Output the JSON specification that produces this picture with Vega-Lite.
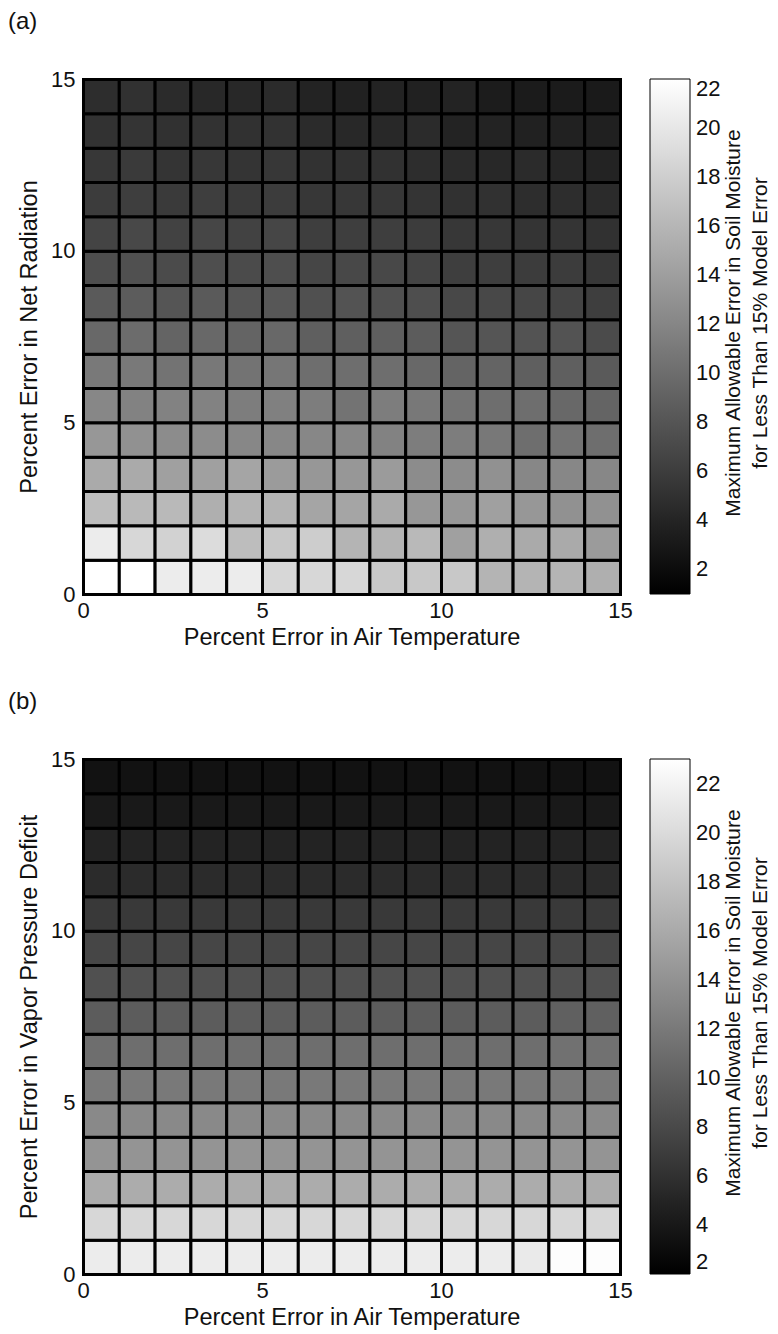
{
"$schema": "https://vega.github.io/schema/vega-lite/v6.json",
"padding": {"left": 8, "top": 10, "right": 0, "bottom": 3},
"background": "white",
"config": {
  "font": "Liberation Sans",
  "view": {"stroke": null},
  "concat": {"spacing": 41},
  "axis": {"grid": false, "ticks": false, "domain": false, "labelFlush": false, "labelFontSize": 22, "labelColor": "#111", "titleFontSize": 23.5, "titleFontWeight": "normal", "titleColor": "#111", "labelPadding": 6},
  "legend": {"labelFontSize": 22, "labelColor": "#111", "titleFontSize": 21, "titleFontWeight": "normal", "titleColor": "#111"},
  "title": {"fontSize": 24, "fontWeight": "normal", "color": "#111"}
},
"resolve": {"scale": {"color": "independent"}, "legend": {"color": "independent"}},
"datasets": {
"a": [
{"x":0,"y":0,"v":22},{"x":1,"y":0,"v":22},{"x":2,"y":0,"v":20.4},{"x":3,"y":0,"v":20.4},{"x":4,"y":0,"v":20.4},{"x":5,"y":0,"v":18.7},{"x":6,"y":0,"v":18.7},{"x":7,"y":0,"v":18.7},{"x":8,"y":0,"v":17.5},{"x":9,"y":0,"v":17.5},{"x":10,"y":0,"v":17.5},{"x":11,"y":0,"v":15.8},{"x":12,"y":0,"v":15.8},{"x":13,"y":0,"v":15.8},{"x":14,"y":0,"v":15.4},
{"x":0,"y":1,"v":20.4},{"x":1,"y":1,"v":18.7},{"x":2,"y":1,"v":18.3},{"x":3,"y":1,"v":19.1},{"x":4,"y":1,"v":16.6},{"x":5,"y":1,"v":17.5},{"x":6,"y":1,"v":17.9},{"x":7,"y":1,"v":15.8},{"x":8,"y":1,"v":15.8},{"x":9,"y":1,"v":16.2},{"x":10,"y":1,"v":14.2},{"x":11,"y":1,"v":15.4},{"x":12,"y":1,"v":15.0},{"x":13,"y":1,"v":15.0},{"x":14,"y":1,"v":13.8},
{"x":0,"y":2,"v":16.6},{"x":1,"y":2,"v":16.2},{"x":2,"y":2,"v":16.2},{"x":3,"y":2,"v":15.4},{"x":4,"y":2,"v":15.8},{"x":5,"y":2,"v":15.8},{"x":6,"y":2,"v":14.6},{"x":7,"y":2,"v":14.6},{"x":8,"y":2,"v":15.0},{"x":9,"y":2,"v":13.4},{"x":10,"y":2,"v":13.4},{"x":11,"y":2,"v":14.2},{"x":12,"y":2,"v":13.4},{"x":13,"y":2,"v":12.9},{"x":14,"y":2,"v":12.9},
{"x":0,"y":3,"v":15.0},{"x":1,"y":3,"v":15.0},{"x":2,"y":3,"v":14.2},{"x":3,"y":3,"v":14.2},{"x":4,"y":3,"v":14.6},{"x":5,"y":3,"v":13.8},{"x":6,"y":3,"v":13.4},{"x":7,"y":3,"v":13.4},{"x":8,"y":3,"v":13.8},{"x":9,"y":3,"v":12.5},{"x":10,"y":3,"v":12.5},{"x":11,"y":3,"v":12.9},{"x":12,"y":3,"v":12.1},{"x":13,"y":3,"v":12.1},{"x":14,"y":3,"v":12.1},
{"x":0,"y":4,"v":13.4},{"x":1,"y":4,"v":12.9},{"x":2,"y":4,"v":12.5},{"x":3,"y":4,"v":12.5},{"x":4,"y":4,"v":12.1},{"x":5,"y":4,"v":12.1},{"x":6,"y":4,"v":12.1},{"x":7,"y":4,"v":12.1},{"x":8,"y":4,"v":11.7},{"x":9,"y":4,"v":11.3},{"x":10,"y":4,"v":11.3},{"x":11,"y":4,"v":10.9},{"x":12,"y":4,"v":10.1},{"x":13,"y":4,"v":10.5},{"x":14,"y":4,"v":10.1},
{"x":0,"y":5,"v":12.1},{"x":1,"y":5,"v":11.7},{"x":2,"y":5,"v":11.7},{"x":3,"y":5,"v":11.7},{"x":4,"y":5,"v":11.3},{"x":5,"y":5,"v":11.5},{"x":6,"y":5,"v":11.3},{"x":7,"y":5,"v":10.5},{"x":8,"y":5,"v":11.3},{"x":9,"y":5,"v":10.9},{"x":10,"y":5,"v":10.5},{"x":11,"y":5,"v":10.1},{"x":12,"y":5,"v":10.1},{"x":13,"y":5,"v":9.6},{"x":14,"y":5,"v":9.2},
{"x":0,"y":6,"v":11.0},{"x":1,"y":6,"v":11.0},{"x":2,"y":6,"v":10.5},{"x":3,"y":6,"v":10.9},{"x":4,"y":6,"v":10.5},{"x":5,"y":6,"v":10.7},{"x":6,"y":6,"v":10.1},{"x":7,"y":6,"v":10.1},{"x":8,"y":6,"v":10.1},{"x":9,"y":6,"v":9.6},{"x":10,"y":6,"v":9.2},{"x":11,"y":6,"v":9.2},{"x":12,"y":6,"v":8.8},{"x":13,"y":6,"v":8.8},{"x":14,"y":6,"v":8.4},
{"x":0,"y":7,"v":9.6},{"x":1,"y":7,"v":9.9},{"x":2,"y":7,"v":9.2},{"x":3,"y":7,"v":9.6},{"x":4,"y":7,"v":9.2},{"x":5,"y":7,"v":9.6},{"x":6,"y":7,"v":8.8},{"x":7,"y":7,"v":8.8},{"x":8,"y":7,"v":8.8},{"x":9,"y":7,"v":8.6},{"x":10,"y":7,"v":8.0},{"x":11,"y":7,"v":8.0},{"x":12,"y":7,"v":7.8},{"x":13,"y":7,"v":7.8},{"x":14,"y":7,"v":7.2},
{"x":0,"y":8,"v":8.4},{"x":1,"y":8,"v":8.6},{"x":2,"y":8,"v":8.0},{"x":3,"y":8,"v":8.4},{"x":4,"y":8,"v":8.0},{"x":5,"y":8,"v":8.2},{"x":6,"y":8,"v":7.6},{"x":7,"y":8,"v":7.8},{"x":8,"y":8,"v":7.6},{"x":9,"y":8,"v":7.4},{"x":10,"y":8,"v":6.9},{"x":11,"y":8,"v":6.9},{"x":12,"y":8,"v":6.8},{"x":13,"y":8,"v":6.6},{"x":14,"y":8,"v":6.1},
{"x":0,"y":9,"v":7.4},{"x":1,"y":9,"v":7.6},{"x":2,"y":9,"v":7.2},{"x":3,"y":9,"v":7.4},{"x":4,"y":9,"v":7.2},{"x":5,"y":9,"v":7.4},{"x":6,"y":9,"v":6.8},{"x":7,"y":9,"v":6.9},{"x":8,"y":9,"v":6.9},{"x":9,"y":9,"v":6.6},{"x":10,"y":9,"v":6.1},{"x":11,"y":9,"v":6.1},{"x":12,"y":9,"v":5.9},{"x":13,"y":9,"v":5.9},{"x":14,"y":9,"v":5.5},
{"x":0,"y":10,"v":6.6},{"x":1,"y":10,"v":6.9},{"x":2,"y":10,"v":6.4},{"x":3,"y":10,"v":6.8},{"x":4,"y":10,"v":6.4},{"x":5,"y":10,"v":6.8},{"x":6,"y":10,"v":6.1},{"x":7,"y":10,"v":6.1},{"x":8,"y":10,"v":6.1},{"x":9,"y":10,"v":5.9},{"x":10,"y":10,"v":5.5},{"x":11,"y":10,"v":5.5},{"x":12,"y":10,"v":5.3},{"x":13,"y":10,"v":5.3},{"x":14,"y":10,"v":5.0},
{"x":0,"y":11,"v":5.9},{"x":1,"y":11,"v":6.1},{"x":2,"y":11,"v":5.8},{"x":3,"y":11,"v":6.1},{"x":4,"y":11,"v":5.8},{"x":5,"y":11,"v":5.9},{"x":6,"y":11,"v":5.5},{"x":7,"y":11,"v":5.5},{"x":8,"y":11,"v":5.5},{"x":9,"y":11,"v":5.3},{"x":10,"y":11,"v":5.0},{"x":11,"y":11,"v":5.0},{"x":12,"y":11,"v":4.7},{"x":13,"y":11,"v":4.7},{"x":14,"y":11,"v":4.5},
{"x":0,"y":12,"v":5.5},{"x":1,"y":12,"v":5.8},{"x":2,"y":12,"v":5.3},{"x":3,"y":12,"v":5.5},{"x":4,"y":12,"v":5.3},{"x":5,"y":12,"v":5.5},{"x":6,"y":12,"v":5.1},{"x":7,"y":12,"v":5.0},{"x":8,"y":12,"v":5.0},{"x":9,"y":12,"v":4.7},{"x":10,"y":12,"v":4.5},{"x":11,"y":12,"v":4.3},{"x":12,"y":12,"v":4.5},{"x":13,"y":12,"v":4.1},{"x":14,"y":12,"v":3.9},
{"x":0,"y":13,"v":5.1},{"x":1,"y":13,"v":5.3},{"x":2,"y":13,"v":5.0},{"x":3,"y":13,"v":5.1},{"x":4,"y":13,"v":5.0},{"x":5,"y":13,"v":5.1},{"x":6,"y":13,"v":4.5},{"x":7,"y":13,"v":4.3},{"x":8,"y":13,"v":4.3},{"x":9,"y":13,"v":4.5},{"x":10,"y":13,"v":3.9},{"x":11,"y":13,"v":3.9},{"x":12,"y":13,"v":3.7},{"x":13,"y":13,"v":3.7},{"x":14,"y":13,"v":3.6},
{"x":0,"y":14,"v":4.7},{"x":1,"y":14,"v":5.0},{"x":2,"y":14,"v":4.5},{"x":3,"y":14,"v":4.3},{"x":4,"y":14,"v":4.3},{"x":5,"y":14,"v":4.5},{"x":6,"y":14,"v":3.9},{"x":7,"y":14,"v":3.7},{"x":8,"y":14,"v":3.9},{"x":9,"y":14,"v":3.7},{"x":10,"y":14,"v":3.9},{"x":11,"y":14,"v":3.3},{"x":12,"y":14,"v":3.2},{"x":13,"y":14,"v":3.2},{"x":14,"y":14,"v":3.1}
],
"b": [
{"x":0,"y":0,"v":21.4},{"x":1,"y":0,"v":21.4},{"x":2,"y":0,"v":21.4},{"x":3,"y":0,"v":21.4},{"x":4,"y":0,"v":21.4},{"x":5,"y":0,"v":21.4},{"x":6,"y":0,"v":21.4},{"x":7,"y":0,"v":21.4},{"x":8,"y":0,"v":21.4},{"x":9,"y":0,"v":21.4},{"x":10,"y":0,"v":21.4},{"x":11,"y":0,"v":21.4},{"x":12,"y":0,"v":21.3},{"x":13,"y":0,"v":22.8},{"x":14,"y":0,"v":22.8},
{"x":0,"y":1,"v":19.7},{"x":1,"y":1,"v":19.7},{"x":2,"y":1,"v":19.7},{"x":3,"y":1,"v":19.7},{"x":4,"y":1,"v":19.7},{"x":5,"y":1,"v":19.7},{"x":6,"y":1,"v":19.7},{"x":7,"y":1,"v":19.7},{"x":8,"y":1,"v":19.7},{"x":9,"y":1,"v":19.7},{"x":10,"y":1,"v":19.7},{"x":11,"y":1,"v":19.7},{"x":12,"y":1,"v":19.7},{"x":13,"y":1,"v":19.7},{"x":14,"y":1,"v":19.7},
{"x":0,"y":2,"v":16.2},{"x":1,"y":2,"v":16.2},{"x":2,"y":2,"v":16.2},{"x":3,"y":2,"v":16.2},{"x":4,"y":2,"v":16.2},{"x":5,"y":2,"v":16.2},{"x":6,"y":2,"v":16.2},{"x":7,"y":2,"v":16.2},{"x":8,"y":2,"v":16.2},{"x":9,"y":2,"v":16.2},{"x":10,"y":2,"v":16.2},{"x":11,"y":2,"v":16.2},{"x":12,"y":2,"v":16.2},{"x":13,"y":2,"v":16.2},{"x":14,"y":2,"v":16.2},
{"x":0,"y":3,"v":14.2},{"x":1,"y":3,"v":14.2},{"x":2,"y":3,"v":14.2},{"x":3,"y":3,"v":14.2},{"x":4,"y":3,"v":14.2},{"x":5,"y":3,"v":14.2},{"x":6,"y":3,"v":14.2},{"x":7,"y":3,"v":14.2},{"x":8,"y":3,"v":14.2},{"x":9,"y":3,"v":14.2},{"x":10,"y":3,"v":14.2},{"x":11,"y":3,"v":14.2},{"x":12,"y":3,"v":14.2},{"x":13,"y":3,"v":14.2},{"x":14,"y":3,"v":14.2},
{"x":0,"y":4,"v":13.3},{"x":1,"y":4,"v":13.3},{"x":2,"y":4,"v":13.3},{"x":3,"y":4,"v":13.3},{"x":4,"y":4,"v":13.3},{"x":5,"y":4,"v":13.3},{"x":6,"y":4,"v":13.3},{"x":7,"y":4,"v":13.3},{"x":8,"y":4,"v":13.3},{"x":9,"y":4,"v":13.3},{"x":10,"y":4,"v":13.3},{"x":11,"y":4,"v":13.3},{"x":12,"y":4,"v":13.3},{"x":13,"y":4,"v":13.3},{"x":14,"y":4,"v":13.3},
{"x":0,"y":5,"v":12.0},{"x":1,"y":5,"v":12.0},{"x":2,"y":5,"v":12.0},{"x":3,"y":5,"v":12.0},{"x":4,"y":5,"v":12.0},{"x":5,"y":5,"v":12.0},{"x":6,"y":5,"v":12.0},{"x":7,"y":5,"v":12.0},{"x":8,"y":5,"v":12.0},{"x":9,"y":5,"v":12.0},{"x":10,"y":5,"v":12.0},{"x":11,"y":5,"v":12.0},{"x":12,"y":5,"v":12.0},{"x":13,"y":5,"v":12.0},{"x":14,"y":5,"v":12.0},
{"x":0,"y":6,"v":11.1},{"x":1,"y":6,"v":11.1},{"x":2,"y":6,"v":11.1},{"x":3,"y":6,"v":11.1},{"x":4,"y":6,"v":11.1},{"x":5,"y":6,"v":11.1},{"x":6,"y":6,"v":11.1},{"x":7,"y":6,"v":11.1},{"x":8,"y":6,"v":11.1},{"x":9,"y":6,"v":11.1},{"x":10,"y":6,"v":11.1},{"x":11,"y":6,"v":11.1},{"x":12,"y":6,"v":11.1},{"x":13,"y":6,"v":11.3},{"x":14,"y":6,"v":11.3},
{"x":0,"y":7,"v":9.6},{"x":1,"y":7,"v":9.6},{"x":2,"y":7,"v":9.6},{"x":3,"y":7,"v":9.6},{"x":4,"y":7,"v":9.6},{"x":5,"y":7,"v":9.6},{"x":6,"y":7,"v":9.6},{"x":7,"y":7,"v":9.6},{"x":8,"y":7,"v":9.6},{"x":9,"y":7,"v":9.6},{"x":10,"y":7,"v":9.6},{"x":11,"y":7,"v":9.6},{"x":12,"y":7,"v":9.6},{"x":13,"y":7,"v":9.9},{"x":14,"y":7,"v":9.9},
{"x":0,"y":8,"v":8.6},{"x":1,"y":8,"v":8.6},{"x":2,"y":8,"v":8.6},{"x":3,"y":8,"v":8.6},{"x":4,"y":8,"v":8.6},{"x":5,"y":8,"v":8.6},{"x":6,"y":8,"v":8.6},{"x":7,"y":8,"v":8.6},{"x":8,"y":8,"v":8.6},{"x":9,"y":8,"v":8.6},{"x":10,"y":8,"v":8.6},{"x":11,"y":8,"v":8.6},{"x":12,"y":8,"v":8.6},{"x":13,"y":8,"v":8.6},{"x":14,"y":8,"v":8.6},
{"x":0,"y":9,"v":7.8},{"x":1,"y":9,"v":7.8},{"x":2,"y":9,"v":7.8},{"x":3,"y":9,"v":7.8},{"x":4,"y":9,"v":7.8},{"x":5,"y":9,"v":7.8},{"x":6,"y":9,"v":7.8},{"x":7,"y":9,"v":7.8},{"x":8,"y":9,"v":7.8},{"x":9,"y":9,"v":7.8},{"x":10,"y":9,"v":7.8},{"x":11,"y":9,"v":7.8},{"x":12,"y":9,"v":7.8},{"x":13,"y":9,"v":7.8},{"x":14,"y":9,"v":7.8},
{"x":0,"y":10,"v":6.7},{"x":1,"y":10,"v":6.7},{"x":2,"y":10,"v":6.7},{"x":3,"y":10,"v":6.7},{"x":4,"y":10,"v":6.7},{"x":5,"y":10,"v":6.7},{"x":6,"y":10,"v":6.7},{"x":7,"y":10,"v":6.7},{"x":8,"y":10,"v":6.7},{"x":9,"y":10,"v":6.7},{"x":10,"y":10,"v":6.7},{"x":11,"y":10,"v":6.7},{"x":12,"y":10,"v":6.7},{"x":13,"y":10,"v":6.7},{"x":14,"y":10,"v":6.7},
{"x":0,"y":11,"v":5.5},{"x":1,"y":11,"v":5.5},{"x":2,"y":11,"v":5.5},{"x":3,"y":11,"v":5.5},{"x":4,"y":11,"v":5.5},{"x":5,"y":11,"v":5.5},{"x":6,"y":11,"v":5.5},{"x":7,"y":11,"v":5.5},{"x":8,"y":11,"v":5.5},{"x":9,"y":11,"v":5.5},{"x":10,"y":11,"v":5.5},{"x":11,"y":11,"v":5.5},{"x":12,"y":11,"v":5.5},{"x":13,"y":11,"v":5.5},{"x":14,"y":11,"v":5.5},
{"x":0,"y":12,"v":4.9},{"x":1,"y":12,"v":4.9},{"x":2,"y":12,"v":4.9},{"x":3,"y":12,"v":4.9},{"x":4,"y":12,"v":4.9},{"x":5,"y":12,"v":4.9},{"x":6,"y":12,"v":4.9},{"x":7,"y":12,"v":4.9},{"x":8,"y":12,"v":4.9},{"x":9,"y":12,"v":4.9},{"x":10,"y":12,"v":4.9},{"x":11,"y":12,"v":4.9},{"x":12,"y":12,"v":4.9},{"x":13,"y":12,"v":4.9},{"x":14,"y":12,"v":4.9},
{"x":0,"y":13,"v":4.1},{"x":1,"y":13,"v":4.1},{"x":2,"y":13,"v":4.1},{"x":3,"y":13,"v":4.1},{"x":4,"y":13,"v":4.1},{"x":5,"y":13,"v":4.1},{"x":6,"y":13,"v":4.1},{"x":7,"y":13,"v":4.1},{"x":8,"y":13,"v":4.1},{"x":9,"y":13,"v":4.1},{"x":10,"y":13,"v":4.1},{"x":11,"y":13,"v":4.1},{"x":12,"y":13,"v":4.1},{"x":13,"y":13,"v":4.1},{"x":14,"y":13,"v":4.1},
{"x":0,"y":14,"v":3.5},{"x":1,"y":14,"v":3.5},{"x":2,"y":14,"v":3.5},{"x":3,"y":14,"v":3.5},{"x":4,"y":14,"v":3.5},{"x":5,"y":14,"v":3.5},{"x":6,"y":14,"v":3.5},{"x":7,"y":14,"v":3.5},{"x":8,"y":14,"v":3.5},{"x":9,"y":14,"v":3.5},{"x":10,"y":14,"v":3.5},{"x":11,"y":14,"v":3.5},{"x":12,"y":14,"v":3.5},{"x":13,"y":14,"v":3.5},{"x":14,"y":14,"v":3.5}
]
},
"vconcat": [
{
  "width": 537, "height": 515,
  "title": {"text": "(a)", "anchor": "start", "frame": "group", "dx": -75, "offset": 34},
  "data": {"name": "a"},
  "mark": {"type": "rect", "stroke": "black", "strokeWidth": 3},
  "encoding": {
    "x": {"field": "x", "type": "quantitative", "bin": {"binned": true, "step": 1}, "scale": {"domain": [0, 15], "nice": false}, "axis": {"values": [0, 5, 10, 15], "title": "Percent Error in Air Temperature", "titlePadding": 4}},
    "y": {"field": "y", "type": "quantitative", "bin": {"binned": true, "step": 1}, "scale": {"domain": [0, 15], "nice": false}, "axis": {"values": [0, 5, 10, 15], "title": "Percent Error in Net Radiation", "titlePadding": 9, "labelPadding": 8}},
    "color": {"field": "v", "type": "quantitative", "scale": {"domain": [1, 22], "range": ["black", "white"], "interpolate": "rgb", "nice": false},
      "legend": {"orient": "right", "offset": 30, "type": "gradient", "direction": "vertical", "gradientLength": 515, "gradientThickness": 40, "gradientStrokeColor": "black", "gradientStrokeWidth": 1, "values": [2,4,6,8,10,12,14,16,18,20,22], "labelOffset": 6, "titleOrient": "right", "titleAnchor": "middle", "titlePadding": 3, "titleLineHeight": 27, "titleLimit": 700,
        "title": ["Maximum Allowable Error in Soil Moisture", "for Less Than 15% Model Error"],
        "encode": {"title": {"update": {"angle": {"value": -90}, "baseline": {"value": "top"}}}}}}
  }
},
{
  "width": 537, "height": 515,
  "title": {"text": "(b)", "anchor": "start", "frame": "group", "dx": -75, "offset": 34},
  "data": {"name": "b"},
  "mark": {"type": "rect", "stroke": "black", "strokeWidth": 3},
  "encoding": {
    "x": {"field": "x", "type": "quantitative", "bin": {"binned": true, "step": 1}, "scale": {"domain": [0, 15], "nice": false}, "axis": {"values": [0, 5, 10, 15], "title": "Percent Error in Air Temperature", "titlePadding": 4}},
    "y": {"field": "y", "type": "quantitative", "bin": {"binned": true, "step": 1}, "scale": {"domain": [0, 15], "nice": false}, "axis": {"values": [0, 5, 10, 15], "title": "Percent Error in Vapor Pressure Deficit", "titlePadding": 9, "labelPadding": 8}},
    "color": {"field": "v", "type": "quantitative", "scale": {"domain": [2, 23], "range": ["black", "white"], "interpolate": "rgb", "nice": false},
      "legend": {"orient": "right", "offset": 30, "type": "gradient", "direction": "vertical", "gradientLength": 515, "gradientThickness": 40, "gradientStrokeColor": "black", "gradientStrokeWidth": 1, "values": [2,4,6,8,10,12,14,16,18,20,22], "labelOffset": 6, "titleOrient": "right", "titleAnchor": "middle", "titlePadding": 3, "titleLineHeight": 27, "titleLimit": 700,
        "title": ["Maximum Allowable Error in Soil Moisture", "for Less Than 15% Model Error"],
        "encode": {"title": {"update": {"angle": {"value": -90}, "baseline": {"value": "top"}}}}}}
  }
}
]
}
